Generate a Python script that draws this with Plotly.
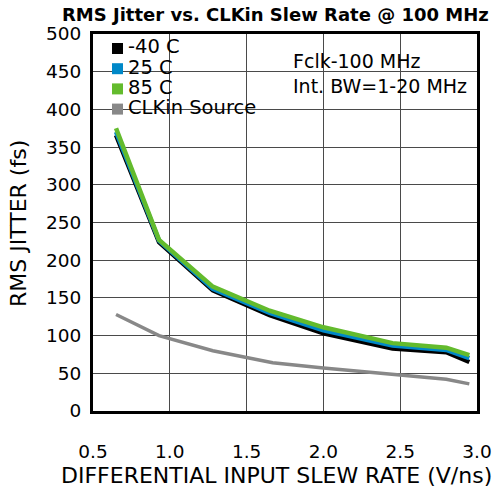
import plotly.graph_objects as go

x_temp = [0.65, 0.93, 1.28, 1.65, 2.0, 2.45, 2.8, 2.95]
jitter_m40 = [366, 224, 160, 127, 103, 83, 78, 65]
jitter_25 = [370, 226, 162, 130, 107, 87, 81, 70]
jitter_85 = [375, 227, 165, 133, 111, 90, 84, 74]
x_src = [0.65, 0.93, 1.28, 1.67, 2.0, 2.45, 2.8, 2.95]
jitter_src = [128, 100, 80, 64, 57, 49, 42, 36]

names = ["-40 C", "25 C", "85 C", "CLKin Source"]
colors = ["#000000", "#0088c8", "#63bb2d", "#888888"]
x_ticks = [0.5, 1.0, 1.5, 2.0, 2.5, 3.0]

FONT = "DejaVu Sans"
FS = 18.5
W, H = 494, 491
L, R, T, B = 93, 17, 34, 80
PW, PH = W - L - R, H - T - B


def px(xp):
    return (xp - L) / PW


def py(yp):
    return (H - B - yp) / PH


fig = go.Figure()

# lines (draw order: gray, black, blue, green on top)
fig.add_trace(go.Scatter(x=x_src, y=jitter_src, mode="lines", name=names[3],
                         line=dict(color=colors[3], width=3.5)))
fig.add_trace(go.Scatter(x=x_temp, y=jitter_m40, mode="lines", name=names[0],
                         line=dict(color=colors[0], width=4.5)))
fig.add_trace(go.Scatter(x=x_temp, y=jitter_25, mode="lines", name=names[1],
                         line=dict(color=colors[1], width=4.5)))
fig.add_trace(go.Scatter(x=x_temp, y=jitter_85, mode="lines", name=names[2],
                         line=dict(color=colors[2], width=4.5)))

fig.update_layout(
    width=W, height=H,
    margin=dict(l=L, r=R, t=T, b=B),
    paper_bgcolor="white", plot_bgcolor="white",
    font=dict(family=FONT, size=FS, color="black"),
    showlegend=False,
)
fig.update_xaxes(range=[0.5, 3.0], tickvals=x_ticks, tickformat=".1f",
                 showgrid=True, gridcolor="#4a4a4a", gridwidth=1.3,
                 showline=True, linecolor="black", linewidth=3, mirror=True,
                 ticks="", ticklabelstandoff=22, zeroline=False, automargin=False)
fig.update_yaxes(range=[0, 500], dtick=50,
                 showgrid=True, gridcolor="#4a4a4a", gridwidth=1.3,
                 showline=True, linecolor="black", linewidth=3, mirror=True,
                 ticks="", ticklabelstandoff=5, zeroline=False, automargin=False)

# white boxes over the grid (legend, note)
fig.add_shape(type="rect", xref="paper", yref="paper", layer="between",
              x0=px(111), x1=px(264), y0=py(119), y1=py(36),
              fillcolor="white", line=dict(width=0))
fig.add_shape(type="rect", xref="paper", yref="paper", layer="between",
              x0=px(284), x1=px(468), y0=py(103), y1=py(45),
              fillcolor="white", line=dict(width=0))

# legend entries
leg_y = [47, 67.2, 87.4, 107.6]
for n, c, yy in zip(names, colors, leg_y):
    fig.add_shape(type="rect", xref="paper", yref="paper", layer="above",
                  x0=px(112), x1=px(123), y0=py(yy + 7), y1=py(yy - 4),
                  fillcolor=c, line=dict(width=0))
    fig.add_annotation(xref="paper", yref="paper", x=px(126), y=py(yy),
                       xanchor="left", yanchor="middle", text=n,
                       showarrow=False, font=dict(size=19.5))

# note
fig.add_annotation(xref="paper", yref="paper", x=px(291), y=py(73.5),
                   xanchor="left", yanchor="middle",
                   text="Fclk-100 MHz<br>Int. BW=1-20 MHz", align="left",
                   showarrow=False, font=dict(size=19))

# title and axis titles
fig.add_annotation(xref="paper", yref="paper", x=px(275), y=py(14.5),
                   xanchor="center", yanchor="middle",
                   text="<b>RMS Jitter vs. CLKin Slew Rate @ 100 MHz</b>",
                   showarrow=False, font=dict(size=18))
fig.add_annotation(xref="paper", yref="paper", x=px(276), y=py(475),
                   xanchor="center", yanchor="middle",
                   text="DIFFERENTIAL INPUT SLEW RATE (V/ns)",
                   showarrow=False, font=dict(size=22))
fig.add_annotation(xref="paper", yref="paper", x=px(18), y=py(224),
                   xanchor="center", yanchor="middle", textangle=-90,
                   text="RMS JITTER (fs)",
                   showarrow=False, font=dict(size=22))

fig.write_html("out.html", config={"displayModeBar": False},
               post_script="document.body.style.margin='0px';")
